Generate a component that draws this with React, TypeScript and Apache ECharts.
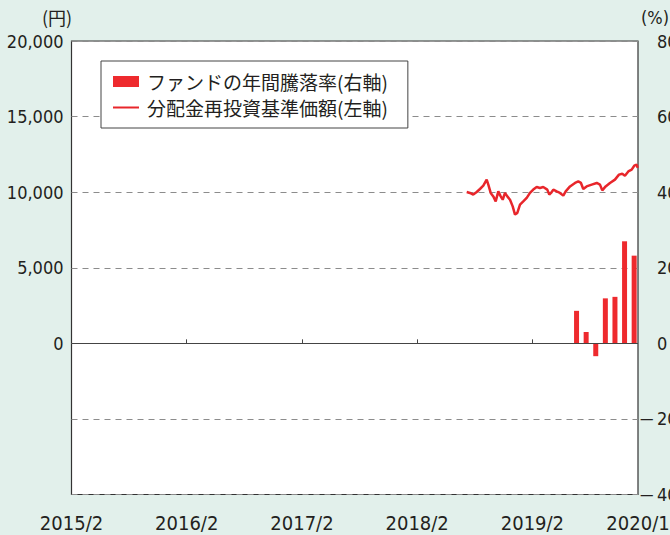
import React, { useEffect, useRef } from "react";
import * as echarts from "echarts";

// x values are months counted from 2015/2 (= 0); 2020/1 = 59
const xTickMonths = [12, 24, 36, 48];
const xLabelMonths = [0, 12, 24, 36, 48, 59];

// Fund annual return (%, right axis)
const barMonths = [52.6, 53.6, 54.6, 55.6, 56.6, 57.6, 58.6];
const barReturns = [8.6, 3.0, -3.4, 11.9, 12.3, 27.0, 23.2];

// NAV with dividends reinvested (yen, left axis)
const navMonths = [
  41.16, 41.5, 41.84, 42.2, 42.54, 42.89, 43.24, 43.41, 43.66, 43.93, 44.18,
  44.45, 44.7, 44.91, 45.15, 45.39, 45.67, 45.95, 46.19, 46.43, 46.71, 47.05,
  47.41, 47.75, 48.09, 48.45, 48.79, 49.13, 49.55, 49.76, 49.94, 50.18, 50.53,
  50.87, 51.22, 51.47, 51.92, 52.44, 52.78, 53.06, 53.3, 53.65, 54.18, 54.7,
  55.04, 55.28, 55.63, 56.08, 56.6, 57.02, 57.36, 57.64, 57.99, 58.34, 58.61,
  58.86, 58.97,
];
const navValues = [
  10010, 9950, 9840, 10010, 10210, 10430, 10830, 10500, 9950, 9720, 9390,
  10050, 9720, 9500, 9950, 9720, 9500, 9060, 8520, 8630, 9180, 9390, 9620,
  9950, 10170, 10340, 10280, 10340, 10170, 9840, 9950, 10170, 10050, 9950,
  9770, 10050, 10380, 10610, 10710, 10610, 10210, 10380, 10500, 10610, 10500,
  10120, 10380, 10610, 10830, 11160, 11220, 11090, 11370, 11490, 11750, 11820,
  11600,
];

const BAR_NAME = "ファンドの年間騰落率(右軸)";
const LINE_NAME = "分配金再投資基準価額(左軸)";

const NUM_FONT =
  "'Liberation Sans Narrow', 'DejaVu Sans Condensed', 'Noto Sans', sans-serif";
const CJK_FONT = "'Noto Sans CJK JP', 'Noto Sans', sans-serif";
const TEXT = "#231f20";
const BG = "#e2f0eb";
const RED_BAR = "#ee2a2e";
const RED_LINE = "#e8262b";

function monthLabel(v: number): string {
  const t = Math.round(v) + 1;
  return `${2015 + Math.floor(t / 12)}/${(t % 12) + 1}`;
}

export default function App() {
  const ref = useRef<HTMLDivElement>(null);

  useEffect(() => {
    if (!ref.current) return;
    const chart = echarts.init(ref.current, undefined, { renderer: "svg" });
    chart.setOption({
      animation: false,
      backgroundColor: BG,
      grid: {
        left: 71.5,
        right: 32,
        top: 41,
        bottom: 40.5,
        containLabel: false,
        outerBoundsMode: "none",
        show: true,
        backgroundColor: "#ffffff",
        borderColor: "#333333",
        borderWidth: 1.2,
      },
      legend: {
        orient: "vertical",
        left: 101,
        top: 61,
        padding: [10, 20, 10, 12],
        itemGap: 5,
        itemWidth: 26,
        itemHeight: 11,
        backgroundColor: "#ffffff",
        borderColor: "#444444",
        borderWidth: 1,
        borderRadius: 0,
        data: [
          { name: BAR_NAME, icon: "rect", itemStyle: { color: RED_BAR } },
          {
            name: LINE_NAME,
            icon: "path://M0,0L0,0M0,4.5L26,4.5L26,6.5L0,6.5ZM0,11L0,11",
            itemStyle: { color: RED_LINE },
          },
        ],
        textStyle: {
          fontFamily: CJK_FONT,
          fontSize: 19,
          lineHeight: 21,
          color: TEXT,
          padding: [0, 0, 0, 3],
        },
      },
      xAxis: {
        type: "value",
        min: 0,
        max: 59,
        interval: 12,
        axisLine: { show: false },
        splitLine: { show: false },
        axisTick: {
          show: true,
          inside: true,
          length: 4,
          customValues: xTickMonths,
          lineStyle: { color: "#444444" },
        },
        axisLabel: {
          customValues: xLabelMonths,
          showMaxLabel: true,
          formatter: (v: number) => monthLabel(v),
          fontFamily: NUM_FONT,
          fontSize: 20,
          color: TEXT,
          margin: 18,
        },
      },
      yAxis: [
        {
          type: "value",
          min: -10000,
          max: 20000,
          interval: 5000,
          axisLine: { show: false },
          axisTick: { show: false },
          splitLine: {
            show: true,
            lineStyle: { color: "#8c8c8c", type: [6, 5], width: 1.2 },
          },
          axisLabel: {
            formatter: (v: number) => (v < 0 ? "" : v.toLocaleString("en-US")),
            fontFamily: NUM_FONT,
            fontSize: 18,
            color: TEXT,
            margin: 8,
          },
        },
        {
          type: "value",
          min: -40,
          max: 80,
          interval: 20,
          axisLine: { show: false },
          axisTick: { show: false },
          splitLine: { show: false },
          axisLabel: {
            margin: 2,
            fontFamily: NUM_FONT,
            fontSize: 18,
            color: TEXT,
            formatter: (v: number) =>
              v < 0 ? `{n|—}{d|${-v}}` : `{p|${v}}`,
            rich: {
              p: { padding: [0, 0, 0, 17], fontFamily: NUM_FONT, fontSize: 18, color: TEXT },
              n: { width: 17, fontFamily: NUM_FONT, fontSize: 15, color: TEXT },
              d: { fontFamily: NUM_FONT, fontSize: 18, color: TEXT },
            },
          },
        },
      ],
      graphic: [
        {
          type: "text",
          left: 42,
          top: 8,
          style: { text: "(円)", font: `18px ${CJK_FONT}`, fill: TEXT },
        },
        {
          type: "text",
          left: 641,
          top: 8,
          style: { text: "(%)", font: `18px ${NUM_FONT}`, fill: TEXT },
        },
      ],
      series: [
        {
          name: BAR_NAME,
          type: "bar",
          yAxisIndex: 1,
          barWidth: 5,
          itemStyle: { color: RED_BAR },
          data: barMonths.map((m, i) => [m, barReturns[i]]),
          markLine: {
            silent: true,
            symbol: "none",
            label: { show: false },
            lineStyle: { color: "#444444", type: "solid", width: 1.2 },
            data: [{ yAxis: 0 }],
          },
        },
        {
          name: LINE_NAME,
          type: "line",
          yAxisIndex: 0,
          symbol: "none",
          showSymbol: false,
          lineStyle: { color: RED_LINE, width: 2.5 },
          itemStyle: { color: RED_LINE },
          data: navMonths.map((m, i) => [m, navValues[i]]),
        },
      ],
    });
    return () => chart.dispose();
  }, []);

  return (
    <div
      ref={ref}
      style={{
        position: "absolute",
        left: 0,
        top: 0,
        width: 670,
        height: 535,
        background: BG,
      }}
    />
  );
}
